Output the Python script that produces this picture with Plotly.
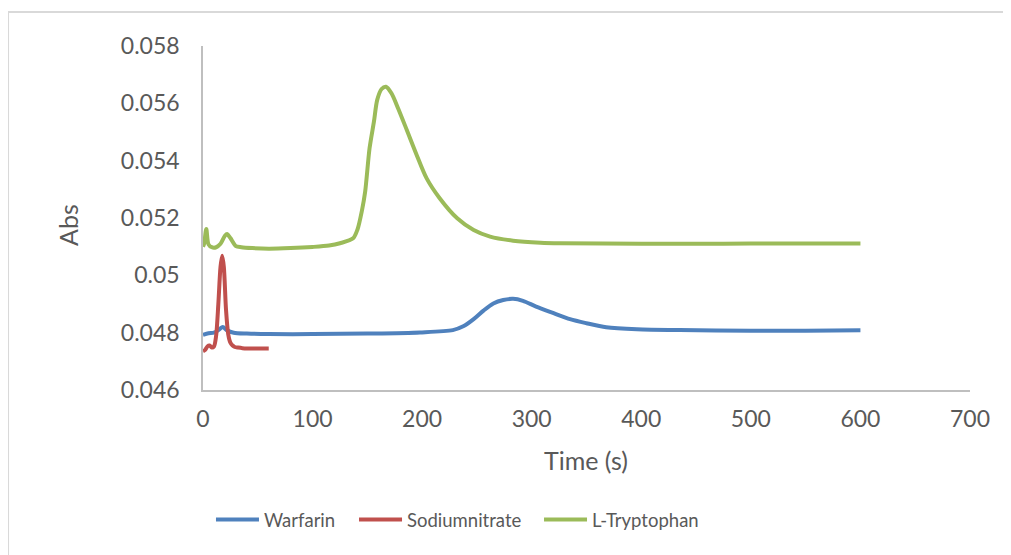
import plotly.graph_objects as go

# ---- data ----
warfarin_t = [0, 5, 10, 15, 18, 22, 28, 40, 60, 100, 150, 198, 228, 238, 247, 256, 265, 274, 283,
              292, 304, 320, 335, 350, 368, 396, 435, 500, 550, 600]
warfarin_abs = [0.04792, 0.04798, 0.04800, 0.04812, 0.04820, 0.04808, 0.04800, 0.04797, 0.04795,
                0.04795, 0.04797, 0.04801, 0.04809, 0.04823, 0.04847, 0.04877, 0.04902, 0.04914,
                0.04918, 0.04911, 0.04891, 0.04868, 0.04847, 0.04833, 0.04819, 0.04812, 0.04809,
                0.04807, 0.04807, 0.04808]

sodium_t = [0, 2, 4, 6, 8, 10, 12, 14, 16, 17.5, 19, 21, 23, 25, 27, 29, 32, 36, 40, 50, 60]
sodium_abs = [0.04735, 0.04740, 0.04752, 0.04755, 0.04748, 0.04752, 0.04790, 0.04900, 0.05030,
              0.05068, 0.05030, 0.04880, 0.04795, 0.04765, 0.04755, 0.04750, 0.04748, 0.04746,
              0.04745, 0.04745, 0.04745]

trp_t = [0, 1, 3, 5, 8, 12, 16, 20, 22, 25, 30, 35, 45, 60, 80, 100, 115, 125, 137, 141, 145,
         148, 152, 156, 159, 163, 167, 172, 178, 186, 195, 204, 216, 232, 247, 262, 283, 308, 326,
         400, 450, 500, 550, 600]
trp_abs = [0.05100, 0.05110, 0.05162, 0.05108, 0.05098, 0.05098, 0.05110, 0.05138, 0.05144,
           0.05130, 0.05102, 0.05098, 0.05095, 0.05093, 0.05095, 0.05099, 0.05104, 0.05112,
           0.05129, 0.05160, 0.05225, 0.05292, 0.05443, 0.05536, 0.05612, 0.05650, 0.05658,
           0.05635, 0.05583, 0.05507, 0.05420, 0.05339, 0.05269, 0.05199, 0.05158, 0.05135,
           0.05121, 0.05114, 0.05112, 0.05110, 0.05110, 0.05111, 0.05111, 0.05111]

x_ticks = [0, 100, 200, 300, 400, 500, 600, 700]
y_ticks = [0.046, 0.048, 0.05, 0.052, 0.054, 0.056, 0.058]
y_tick_text = ["0.046", "0.048", "0.05", "0.052", "0.054", "0.056", "0.058"]

FONT = "Lato, 'Open Sans', sans-serif"
GREY = "#595959"

fig = go.Figure()
series = [
    ("Warfarin", warfarin_t, warfarin_abs, "#4f81bd", "legend"),
    ("Sodiumnitrate", sodium_t, sodium_abs, "#c0504d", "legend2"),
    ("L-Tryptophan", trp_t, trp_abs, "#9bbb59", "legend3"),
]
for name, t, v, c, lg in series:
    fig.add_trace(go.Scatter(x=t, y=v, name=name, mode="lines", legend=lg,
                             line=dict(color=c, width=4, shape="spline", smoothing=0.8)))

leg_y = -0.378
leg_common = dict(orientation="h", y=leg_y, yanchor="middle", xanchor="left",
                  font=dict(size=18.5, color=GREY), itemwidth=43,
                  bgcolor="rgba(0,0,0,0)")

fig.update_layout(
    width=1011, height=555,
    margin=dict(l=195, r=49, t=38, b=173),
    paper_bgcolor="white", plot_bgcolor="white",
    font=dict(family=FONT, size=20, color=GREY),
    showlegend=True,
    legend=dict(x=0.0104, **leg_common),
    legend2=dict(x=0.1969, **leg_common),
    legend3=dict(x=0.4381, **leg_common),
    xaxis=dict(range=[0, 700], tickvals=x_ticks, showgrid=False, zeroline=False,
               showline=True, linecolor="#bfbfbf", linewidth=1.5, ticks="",
               ticklabelstandoff=8, tickfont=dict(size=23, color=GREY)),
    yaxis=dict(range=[0.046, 0.058], tickvals=y_ticks, ticktext=y_tick_text, showgrid=False,
               zeroline=False, showline=True, linecolor="#bfbfbf", linewidth=1.5, ticks="",
               ticklabelstandoff=17, tickfont=dict(size=23, color=GREY)),
    annotations=[
        dict(text="Abs", xref="paper", yref="paper", x=-0.176, y=0.48, showarrow=False,
             textangle=-90, font=dict(size=25, color=GREY), xanchor="center", yanchor="middle"),
        dict(text="Time (s)", xref="paper", yref="paper", x=0.4994, y=-0.2035, showarrow=False,
             font=dict(size=25, color=GREY), xanchor="center", yanchor="middle"),
    ],
    shapes=[
        dict(type="rect", xref="paper", yref="paper", x0=-0.2542, x1=1.07, y0=-0.52, y1=1.0988,
             line=dict(color="#d9d9d9", width=2), fillcolor="rgba(0,0,0,0)", layer="below"),
    ],
)

fig.write_html("out.html")
